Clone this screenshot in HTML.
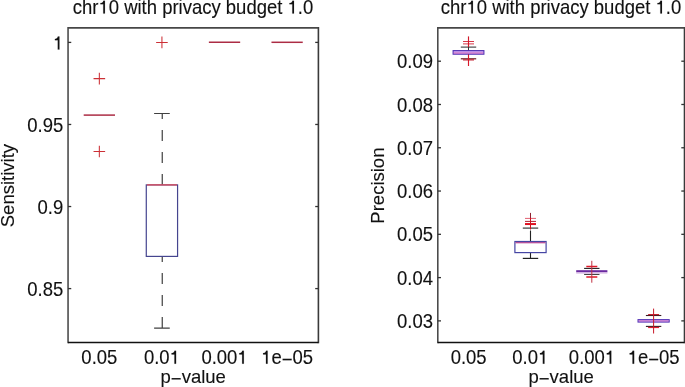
<!DOCTYPE html>
<html><head><meta charset="utf-8"><style>
html,body{margin:0;padding:0;background:#fff;width:685px;height:387px;overflow:hidden;position:relative}
</style></head><body>
<svg width="685" height="387" viewBox="0 0 685 387" style="position:absolute;left:0;top:0;will-change:transform">
<g font-family='"Liberation Sans", sans-serif' font-size="18.5" fill="#111" stroke="#111" stroke-width="0.12">
<line x1="68.05" y1="27.0" x2="68.05" y2="343.2" stroke="#474747" stroke-width="1.55"/>
<line x1="318.4" y1="27.0" x2="318.4" y2="343.2" stroke="#3a3a3a" stroke-width="1.6"/>
<line x1="68.05" y1="27.9" x2="318.4" y2="27.9" stroke="#474747" stroke-width="1.6"/>
<line x1="68.05" y1="342.5" x2="318.4" y2="342.5" stroke="#111" stroke-width="1.3"/>
<line x1="68.05" y1="42.4" x2="71.25" y2="42.4" stroke="#333" stroke-width="1.3"/>
<line x1="318.4" y1="42.4" x2="315.2" y2="42.4" stroke="#333" stroke-width="1.3"/>
<text transform="translate(63.25 49.55) scale(1 1.07)" text-anchor="end"> </text>
<line x1="68.05" y1="124.46500000000006" x2="71.25" y2="124.46500000000006" stroke="#333" stroke-width="1.3"/>
<line x1="318.4" y1="124.46500000000006" x2="315.2" y2="124.46500000000006" stroke="#333" stroke-width="1.3"/>
<text transform="translate(63.25 131.62) scale(1 1.07)" text-anchor="end">0.95</text>
<line x1="68.05" y1="206.52999999999997" x2="71.25" y2="206.52999999999997" stroke="#333" stroke-width="1.3"/>
<line x1="318.4" y1="206.52999999999997" x2="315.2" y2="206.52999999999997" stroke="#333" stroke-width="1.3"/>
<text transform="translate(63.25 213.68) scale(1 1.07)" text-anchor="end">0.9</text>
<line x1="68.05" y1="288.595" x2="71.25" y2="288.595" stroke="#333" stroke-width="1.3"/>
<line x1="318.4" y1="288.595" x2="315.2" y2="288.595" stroke="#333" stroke-width="1.3"/>
<text transform="translate(63.25 295.75) scale(1 1.07)" text-anchor="end">0.85</text>
<text transform="translate(99.34 363.7) scale(1 1.07)" text-anchor="middle">0.05</text>
<text transform="translate(161.93 363.7) scale(1 1.07)" text-anchor="middle">0.0 </text>
<text transform="translate(224.52 363.7) scale(1 1.07)" text-anchor="middle">0.00 </text>
<text transform="translate(287.11 363.7) scale(1 1.07)" text-anchor="middle"> e<tspan dy="2.0">−</tspan><tspan dy="-2.0">05</tspan></text>
<text transform="translate(193.22 383.4) scale(1 1.0)" text-anchor="middle">p<tspan dy="1.7">−</tspan><tspan dy="-1.7">value</tspan></text>
<text transform="translate(193.00 13.6) scale(1 1.07)" text-anchor="middle">chr 0 with privacy budget  .0</text>
<text transform="translate(14.2 185.60) rotate(-90) scale(1 1.0)" text-anchor="middle">Sensitivity</text>
<line x1="437.8" y1="27.0" x2="437.8" y2="343.2" stroke="#474747" stroke-width="1.55"/>
<line x1="684.5" y1="27.0" x2="684.5" y2="343.2" stroke="#3a3a3a" stroke-width="1.6"/>
<line x1="437.8" y1="27.9" x2="684.5" y2="27.9" stroke="#474747" stroke-width="1.6"/>
<line x1="437.8" y1="342.5" x2="684.5" y2="342.5" stroke="#111" stroke-width="1.3"/>
<line x1="437.8" y1="61.2" x2="441.0" y2="61.2" stroke="#333" stroke-width="1.3"/>
<line x1="684.5" y1="61.2" x2="681.3" y2="61.2" stroke="#333" stroke-width="1.3"/>
<text transform="translate(433.00 68.35) scale(1 1.07)" text-anchor="end">0.09</text>
<line x1="437.8" y1="104.47999999999999" x2="441.0" y2="104.47999999999999" stroke="#333" stroke-width="1.3"/>
<line x1="684.5" y1="104.47999999999999" x2="681.3" y2="104.47999999999999" stroke="#333" stroke-width="1.3"/>
<text transform="translate(433.00 111.63) scale(1 1.07)" text-anchor="end">0.08</text>
<line x1="437.8" y1="147.75999999999996" x2="441.0" y2="147.75999999999996" stroke="#333" stroke-width="1.3"/>
<line x1="684.5" y1="147.75999999999996" x2="681.3" y2="147.75999999999996" stroke="#333" stroke-width="1.3"/>
<text transform="translate(433.00 154.91) scale(1 1.07)" text-anchor="end">0.07</text>
<line x1="437.8" y1="191.04000000000002" x2="441.0" y2="191.04000000000002" stroke="#333" stroke-width="1.3"/>
<line x1="684.5" y1="191.04000000000002" x2="681.3" y2="191.04000000000002" stroke="#333" stroke-width="1.3"/>
<text transform="translate(433.00 198.19) scale(1 1.07)" text-anchor="end">0.06</text>
<line x1="437.8" y1="234.32" x2="441.0" y2="234.32" stroke="#333" stroke-width="1.3"/>
<line x1="684.5" y1="234.32" x2="681.3" y2="234.32" stroke="#333" stroke-width="1.3"/>
<text transform="translate(433.00 241.47) scale(1 1.07)" text-anchor="end">0.05</text>
<line x1="437.8" y1="277.59999999999997" x2="441.0" y2="277.59999999999997" stroke="#333" stroke-width="1.3"/>
<line x1="684.5" y1="277.59999999999997" x2="681.3" y2="277.59999999999997" stroke="#333" stroke-width="1.3"/>
<text transform="translate(433.00 284.75) scale(1 1.07)" text-anchor="end">0.04</text>
<line x1="437.8" y1="320.88" x2="441.0" y2="320.88" stroke="#333" stroke-width="1.3"/>
<line x1="684.5" y1="320.88" x2="681.3" y2="320.88" stroke="#333" stroke-width="1.3"/>
<text transform="translate(433.00 328.03) scale(1 1.07)" text-anchor="end">0.03</text>
<text transform="translate(468.64 363.7) scale(1 1.07)" text-anchor="middle">0.05</text>
<text transform="translate(530.31 363.7) scale(1 1.07)" text-anchor="middle">0.0 </text>
<text transform="translate(591.99 363.7) scale(1 1.07)" text-anchor="middle">0.00 </text>
<text transform="translate(653.66 363.7) scale(1 1.07)" text-anchor="middle"> e<tspan dy="2.0">−</tspan><tspan dy="-2.0">05</tspan></text>
<text transform="translate(561.15 383.4) scale(1 1.0)" text-anchor="middle">p<tspan dy="1.7">−</tspan><tspan dy="-1.7">value</tspan></text>
<text transform="translate(561.00 13.6) scale(1 1.07)" text-anchor="middle">chr 0 with privacy budget  .0</text>
<text transform="translate(384.3 185.60) rotate(-90) scale(1 1.0)" text-anchor="middle">Precision</text>
<path transform="translate(63.25 49.55) scale(1 1.07)" d="M-3.82 0.00L-5.48 0.00L-5.48 -8.70L-8.35 -8.70L-8.35 -9.90C-6.78 -9.99 -5.67 -10.73 -5.39 -12.12L-3.82 -12.12Z" fill="#111" stroke="#111" stroke-width="0.12"/>
<path transform="translate(161.93 363.7) scale(1 1.07)" d="M14.16 0.00L12.50 0.00L12.50 -8.70L9.63 -8.70L9.63 -9.90C11.20 -9.99 12.31 -10.73 12.59 -12.12L14.16 -12.12Z" fill="#111" stroke="#111" stroke-width="0.12"/>
<path transform="translate(224.52 363.7) scale(1 1.07)" d="M19.31 0.00L17.65 0.00L17.65 -8.70L14.78 -8.70L14.78 -9.90C16.35 -9.99 17.46 -10.73 17.74 -12.12L19.31 -12.12Z" fill="#111" stroke="#111" stroke-width="0.12"/>
<path transform="translate(287.11 363.7) scale(1 1.07)" d="M-19.49 0.00L-21.16 0.00L-21.16 -8.70L-24.02 -8.70L-24.02 -9.90C-22.45 -9.99 -21.34 -10.73 -21.06 -12.12L-19.49 -12.12Z" fill="#111" stroke="#111" stroke-width="0.12"/>
<path transform="translate(193.00 13.6) scale(1 1.07)" d="M-88.07 0.00L-89.73 0.00L-89.73 -8.70L-92.60 -8.70L-92.60 -9.90C-91.03 -9.99 -89.92 -10.73 -89.64 -12.12L-88.07 -12.12ZM100.99 0.00L99.32 0.00L99.32 -8.70L96.45 -8.70L96.45 -9.90C98.03 -9.99 99.14 -10.73 99.41 -12.12L100.99 -12.12Z" fill="#111" stroke="#111" stroke-width="0.12"/>
<path transform="translate(530.31 363.7) scale(1 1.07)" d="M14.16 0.00L12.50 0.00L12.50 -8.70L9.63 -8.70L9.63 -9.90C11.20 -9.99 12.31 -10.73 12.59 -12.12L14.16 -12.12Z" fill="#111" stroke="#111" stroke-width="0.12"/>
<path transform="translate(591.99 363.7) scale(1 1.07)" d="M19.31 0.00L17.65 0.00L17.65 -8.70L14.78 -8.70L14.78 -9.90C16.35 -9.99 17.46 -10.73 17.74 -12.12L19.31 -12.12Z" fill="#111" stroke="#111" stroke-width="0.12"/>
<path transform="translate(653.66 363.7) scale(1 1.07)" d="M-19.49 0.00L-21.16 0.00L-21.16 -8.70L-24.02 -8.70L-24.02 -9.90C-22.45 -9.99 -21.34 -10.73 -21.06 -12.12L-19.49 -12.12Z" fill="#111" stroke="#111" stroke-width="0.12"/>
<path transform="translate(561.00 13.6) scale(1 1.07)" d="M-88.07 0.00L-89.73 0.00L-89.73 -8.70L-92.60 -8.70L-92.60 -9.90C-91.03 -9.99 -89.92 -10.73 -89.64 -12.12L-88.07 -12.12ZM100.99 0.00L99.32 0.00L99.32 -8.70L96.45 -8.70L96.45 -9.90C98.03 -9.99 99.14 -10.73 99.41 -12.12L100.99 -12.12Z" fill="#111" stroke="#111" stroke-width="0.12"/>
</g>
<path d="M83.70 115.1H114.99" stroke="#ac2c44" stroke-width="1.5"/>
<path d="M93.54 78.60H105.14M99.34 72.80V84.40" stroke="#cc3036" stroke-width="1.05" fill="none"/>
<path d="M93.54 151.50H105.14M99.34 145.70V157.30" stroke="#cc3036" stroke-width="1.05" fill="none"/>
<path d="M162.25 184.90V113.50" stroke="#404040" stroke-width="1.2" fill="none" stroke-dasharray="11 11"/>
<path d="M162.25 328.10V256.40" stroke="#404040" stroke-width="1.2" fill="none" stroke-dasharray="11 11"/>
<path d="M154.11 113.50H169.75M154.11 328.10H169.75" stroke="#404040" stroke-width="1.2" fill="none"/>
<rect x="146.28" y="184.90" width="31.29" height="71.50" fill="none" stroke="#45458f" stroke-width="1.2"/>
<path d="M146.88 184.90H176.98" stroke="#de4c5a" stroke-width="1.3" fill="none"/>
<path d="M156.13 42.40H167.73M161.93 36.60V48.20" stroke="#cc3036" stroke-width="1.05" fill="none"/>
<path d="M208.87 42.3H240.17" stroke="#ac2c44" stroke-width="1.5"/>
<path d="M271.46 42.3H302.75" stroke="#ac2c44" stroke-width="1.5"/>
<path d="M468.50 47.00V58.90" stroke="#333" stroke-width="1.0"/>
<path d="M460.80 47.10H476.20" stroke="#3a3a3a" stroke-width="1.1"/>
<rect x="453.10" y="50.6" width="30.8" height="3.6" fill="#c8a0f0" stroke="#5232b4" stroke-width="1.1"/>
<path d="M453.70 53.00H483.30" stroke="#e070b8" stroke-width="0.9"/>
<path d="M463.00 41.50H474.00" stroke="#d83848" stroke-width="1.0"/>
<path d="M463.00 43.90H474.00" stroke="#d83848" stroke-width="1.0"/>
<path d="M460.80 58.80H476.20" stroke="#6a1a22" stroke-width="1.2"/>
<path d="M463.00 59.90H474.00" stroke="#c01020" stroke-width="1.1"/>
<path d="M468.50 36.40V47.00" stroke="#d01828" stroke-width="1.15"/>
<path d="M468.50 54.60V66.00" stroke="#d81828" stroke-width="1.15"/>
<path d="M530.50 241.50V228.10" stroke="#222" stroke-width="1.1" stroke-dasharray="11 11"/>
<path d="M530.50 258.40V252.60" stroke="#222" stroke-width="1.1"/>
<path d="M522.80 228.10H538.20" stroke="#3a3a3a" stroke-width="1.2"/>
<path d="M522.80 258.40H538.20" stroke="#222" stroke-width="1.2"/>
<rect x="514.90" y="241.5" width="31.2" height="11.1" fill="none" stroke="#4646a4" stroke-width="1.2"/>
<path d="M515.50 242.70H545.50" stroke="#b04090" stroke-width="1.2"/>
<path d="M525.00 218.40H536.00" stroke="#e06070" stroke-width="1.0"/>
<path d="M525.00 221.40H536.00" stroke="#b02030" stroke-width="1.0"/>
<path d="M525.00 223.60H536.00" stroke="#e01020" stroke-width="1.1"/>
<path d="M525.00 224.50H536.00" stroke="#e01020" stroke-width="1.1"/>
<path d="M530.50 212.90V218.00" stroke="#902030" stroke-width="1.0"/>
<path d="M530.50 218.00V229.50" stroke="#d01020" stroke-width="1.0"/>
<path d="M584.10 268.40H599.50" stroke="#202020" stroke-width="1.1"/>
<path d="M584.10 274.40H599.50" stroke="#303030" stroke-width="1.0"/>
<rect x="576.20" y="270.2" width="31.2" height="2.1" fill="#6a2aa0"/>
<path d="M576.20 273.00H607.40" stroke="#d0a8e0" stroke-width="1.0"/>
<path d="M586.30 266.50H597.30" stroke="#e01828" stroke-width="1.5"/>
<path d="M586.30 277.00H597.30" stroke="#e01828" stroke-width="1.5"/>
<path d="M591.80 260.80V282.70" stroke="#c03040" stroke-width="1.0"/>
<path d="M645.90 315.50H661.30" stroke="#3a1a20" stroke-width="1.1"/>
<path d="M645.90 326.40H661.30" stroke="#301a20" stroke-width="1.1"/>
<rect x="638.00" y="319.6" width="31.2" height="2.5" fill="#c8a0f0" stroke="#5232b4" stroke-width="1.0"/>
<path d="M638.80 320.90H668.40" stroke="#d070c0" stroke-width="0.9"/>
<path d="M648.10 314.60H659.10" stroke="#c01828" stroke-width="1.1"/>
<path d="M648.10 327.50H659.10" stroke="#e02030" stroke-width="1.2"/>
<path d="M653.60 308.60V333.50" stroke="#c81828" stroke-width="1.0"/>
</svg>
</body></html>
